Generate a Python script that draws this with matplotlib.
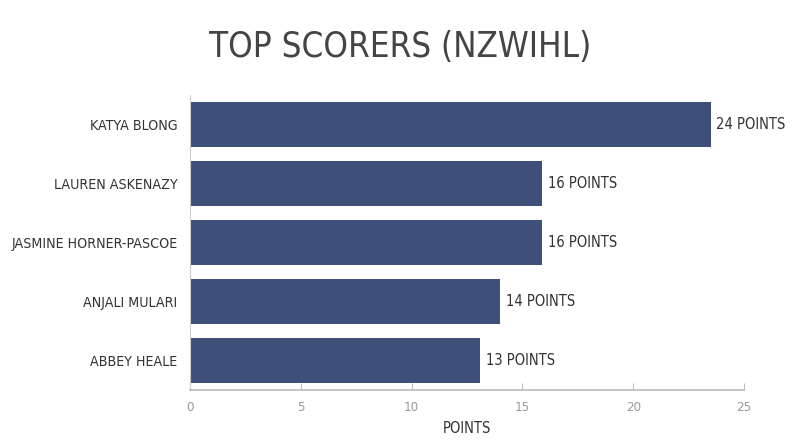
import matplotlib
matplotlib.use('Agg')
import matplotlib.pyplot as plt

names = ['KATYA BLONG', 'LAUREN ASKENAZY', 'JASMINE HORNER-PASCOE', 'ANJALI MULARI', 'ABBEY HEALE']
points = [23.5, 15.9, 15.9, 14, 13.1]
labels = ['24 POINTS', '16 POINTS', '16 POINTS', '14 POINTS', '13 POINTS']
ticks = [0, 5, 10, 15, 20, 25]

plt.rcParams['font.family'] = ['DejaVu Sans']
plt.rcParams['font.stretch'] = 'condensed'

fig = plt.figure(figsize=(8, 4.47), dpi=100)
ax = fig.add_axes([0.2375, 0.1275, 0.6925, 0.66])

ypos = list(range(len(names)))[::-1]
ax.barh(ypos, points, height=0.75, color='#3e5079')
for y, v, t in zip(ypos, points, labels):
    ax.text(v + 0.25, y, t, va='center', ha='left', fontsize=10.5, color='#333333')

ax.set_yticks(ypos)
ax.set_yticklabels(names, fontsize=10.2, color='#333333')
ax.set_ylim(-0.5, 4.5)
ax.set_xlim(0, 25)
ax.set_xticks(ticks)
ax.set_xticklabels([str(t) for t in ticks], fontsize=9.5, color='#999999')
ax.tick_params(axis='y', length=0, pad=9)
ax.tick_params(axis='x', direction='in', length=5, color='#bbbbbb', pad=8)
ax.set_xlabel('POINTS', fontsize=10.5, color='#333333', labelpad=5)
for s in ['top', 'right']:
    ax.spines[s].set_visible(False)
ax.spines['left'].set_color('#cccccc')
ax.spines['bottom'].set_color('#bbbbbb')
ax.spines['bottom'].set_linewidth(1.2)

fig.text(0.5, 0.895, 'TOP SCORERS (NZWIHL)', ha='center', va='center', fontsize=25, color='#444444')

fig.savefig('out.png', dpi=100)
